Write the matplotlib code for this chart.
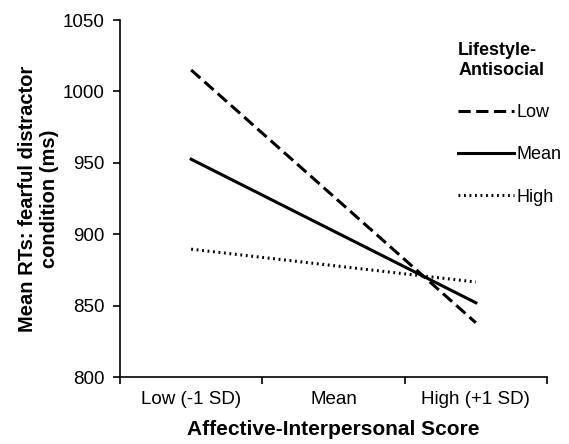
import matplotlib
matplotlib.use("Agg")
import matplotlib.pyplot as plt
from matplotlib.lines import Line2D

plt.rcParams['font.family'] = ['Liberation Sans', 'DejaVu Sans']

categories = ['Low (-1 SD)', 'Mean', 'High (+1 SD)']
low_values = [1015, 838]
mean_values = [952.5, 852]
high_values = [889.5, 866.5]
series_names = ['Low', 'Mean', 'High']
yticks = [800, 850, 900, 950, 1000, 1050]

fig = plt.figure(figsize=(5.69, 4.44), dpi=100)
ax = fig.add_axes([120 / 569, 1 - 377 / 444, 427 / 569, 357 / 444])

dash = (0, (4, 1.8))
dots = (0, (0.6, 1.2))
xs = [0, 2]
ax.plot(xs, low_values, color='black', lw=2.2, ls=dash)
ax.plot(xs, mean_values, color='black', lw=2.2, ls='-')
ax.plot(xs, high_values, color='black', lw=2.2, ls=dots)

ax.set_xlim(-0.5, 2.5)
ax.set_ylim(800, 1050)
ax.set_yticks(yticks)
ax.set_xticks([0, 1, 2])
ax.set_xticklabels(categories)
ax.set_xticks([-0.5, 0.5, 1.5, 2.5], minor=True)
ax.tick_params(axis='x', which='major', length=0, labelsize=13.5, pad=10)
ax.tick_params(axis='x', which='minor', length=5, width=1.2, direction='out')
ax.tick_params(axis='y', length=5, width=1.2, direction='out', labelsize=13.5, pad=6)
for s in ['top', 'right']:
    ax.spines[s].set_visible(False)
for s in ['left', 'bottom']:
    ax.spines[s].set_linewidth(1.2)

ax.set_xlabel('Affective-Interpersonal Score', fontsize=15, fontweight='bold', labelpad=9)
ax.set_ylabel('Mean RTs: fearful distractor\ncondition (ms)', fontsize=14.5,
              fontweight='bold', labelpad=3, linespacing=1.15)

handles = [
    Line2D([], [], color='black', lw=2.2, ls=dash),
    Line2D([], [], color='black', lw=2.2, ls='-'),
    Line2D([], [], color='black', lw=2.2, ls=dots),
]
leg = fig.legend(handles, series_names, title='Lifestyle-\nAntisocial',
                 loc='upper left', bbox_to_anchor=(442 / 569, 1 - 26 / 444),
                 frameon=False, fontsize=13, handlelength=3.1,
                 handletextpad=0.1, labelspacing=1.4, alignment='left')
leg.get_title().set_fontweight('bold')
leg.get_title().set_fontsize(13)

fig.savefig('out.png', dpi=100)
